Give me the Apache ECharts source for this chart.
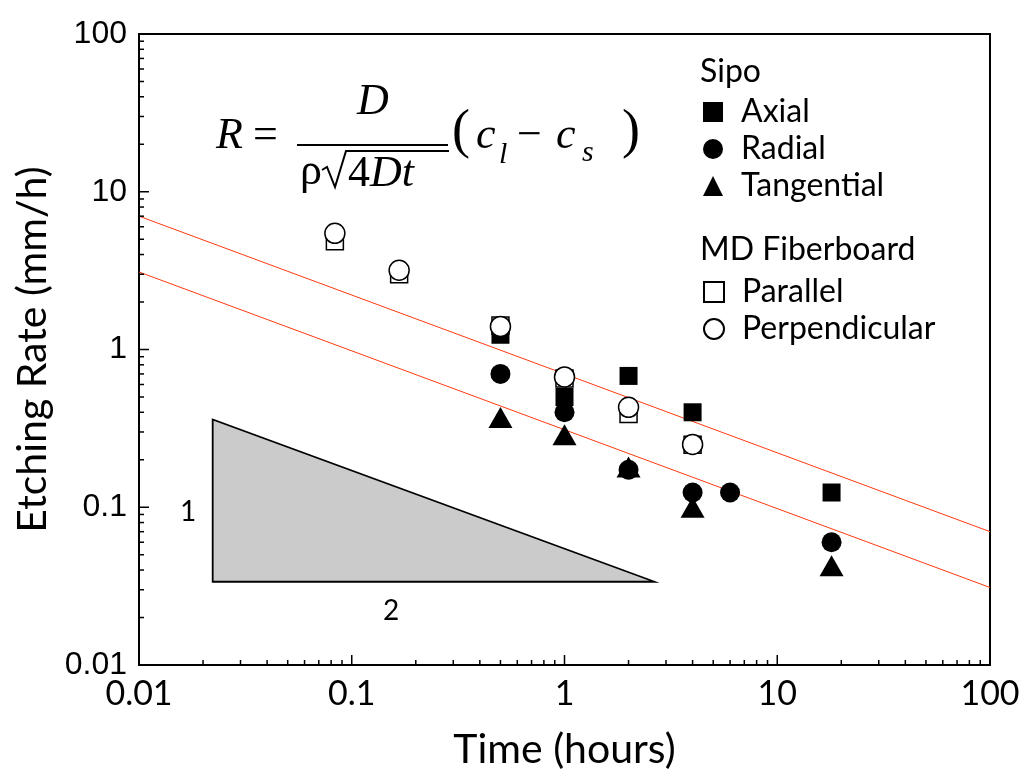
<!DOCTYPE html>
<html>
<head>
<meta charset="utf-8">
<script src="https://cdn.jsdelivr.net/npm/echarts@6/dist/echarts.min.js"></script>
<style>
  html, body { margin: 0; padding: 0; background: #fff; }
  #chart { width: 1027px; height: 783px; }
</style>
</head>
<body>
<div id="chart"></div>
<script>
// values
const axialX = [0.5, 1, 2, 4, 18];
const axialY = [1.24, 0.5, 0.68, 0.4, 0.124];
const radialX = [0.5, 1, 2, 4, 6, 18];
const radialY = [0.7, 0.4, 0.173, 0.124, 0.124, 0.06];
const tangX = [0.5, 1, 2, 4, 18];
const tangY = [0.37, 0.288, 0.18, 0.1, 0.0425];
const parallelX = [0.0833, 0.167, 0.5, 1, 2, 4];
const parallelY = [4.85, 3.0, 1.42, 0.654, 0.39, 0.249];
const perpX = [0.0833, 0.167, 0.5, 1, 2, 4];
const perpY = [5.45, 3.18, 1.4, 0.67, 0.43, 0.25];

// fitted lines (slope -1/2)
const upperLineX = [0.01, 100];
const upperLineY = [7.0, 0.07];
const lowerLineX = [0.01, 100];
const lowerLineY = [3.1, 0.031];

// slope triangle
const triX = [0.0222, 0.0222, 2.65];
const triY = [0.36, 0.0337, 0.0337];

const decadeLabels = ['0.01', '0.1', '1', '10', '100'];
const majorTicks = [0.01, 0.1, 1, 10, 100];
const minorTicks = [];
[0.01, 0.1, 1, 10].forEach(d => {
  for (let k = 2; k <= 9; k++) minorTicks.push(+(d * k).toPrecision(3));
});

const zip = (xs, ys) => xs.map((x, i) => [x, ys[i]]);
const labelOf = v => decadeLabels[Math.round(Math.log10(v)) + 2];

const chart = echarts.init(document.getElementById('chart'));

const baseAxis = {
  type: 'log',
  logBase: 10,
  min: 0.01,
  max: 100,
  splitLine: { show: false },
  axisTick: { show: false }
};

const font = 'Lato, "Open Sans", sans-serif';
const yTickFont = '"Liberation Sans", Arial, sans-serif';
const serif = '"Liberation Serif", "Times New Roman", serif';
const ital = 'italic 44px ' + serif;
const upr = '44px ' + serif;

// tick marks drawn through the axis scales: [value, length]
const tickData = majorTicks.map(v => [v, v, 10]).concat(minorTicks.map(v => [v, v, 5]));

chart.setOption({
  animation: false,
  backgroundColor: '#fff',
  grid: {
    left: 139, right: 37, top: 34, bottom: 118,
    show: true, borderColor: '#000', borderWidth: 2
  },
  xAxis: Object.assign({}, baseAxis, {
    name: 'Time (hours)',
    nameLocation: 'middle',
    nameGap: 64,
    nameTextStyle: { fontFamily: font, fontSize: 41, color: '#000' },
    axisLine: { show: true, lineStyle: { color: '#000', width: 2 } },
    axisLabel: {
      formatter: labelOf, margin: 12,
      fontFamily: font, fontSize: 34, color: '#000'
    }
  }),
  yAxis: Object.assign({}, baseAxis, {
    name: 'Etching Rate (mm/h)',
    nameLocation: 'middle',
    nameGap: 86,
    nameTextStyle: { fontFamily: font, fontSize: 41, color: '#000' },
    axisLine: { show: true, lineStyle: { color: '#000', width: 2 } },
    axisLabel: {
      formatter: labelOf, margin: 12,
      fontFamily: yTickFont, fontSize: 32, color: '#000'
    }
  }),
  legend: [
    {
      orient: 'vertical', left: 703, top: 96, itemGap: 5, padding: 0,
      itemWidth: 20, itemHeight: 20,
      data: ['Axial', 'Radial', 'Tangential'],
      textStyle: { fontFamily: font, fontSize: 32, lineHeight: 32, color: '#000', padding: [0, 0, 0, 13] }
    },
    {
      orient: 'vertical', left: 703, top: 276, itemGap: 5, padding: 0,
      itemWidth: 20, itemHeight: 20,
      data: ['Parallel', 'Perpendicular'],
      textStyle: { fontFamily: font, fontSize: 32, lineHeight: 32, color: '#000', padding: [0, 0, 0, 13] }
    }
  ],
  graphic: [
    { type: 'text', left: 700, top: 56, style: { text: 'Sipo', font: '32px ' + font, fill: '#000' } },
    { type: 'text', left: 700, top: 234, style: { text: 'MD Fiberboard', font: '32px ' + font, fill: '#000' } },
    { type: 'text', left: 180, top: 498, style: { text: '1', font: '28px ' + font, fill: '#000' } },
    { type: 'text', left: 383, top: 597, style: { text: '2', font: '28px ' + font, fill: '#000' } },
    // formula
    { type: 'text', left: 216, top: 114, style: { text: 'R', font: ital, fill: '#000' } },
    { type: 'text', left: 253, top: 114, style: { text: '=', font: upr, fill: '#000' } },
    { type: 'text', left: 357, top: 80, style: { text: 'D', font: ital, fill: '#000' } },
    { type: 'line', shape: { x1: 297, y1: 145, x2: 448, y2: 145 }, style: { stroke: '#000', lineWidth: 2 } },
    { type: 'text', left: 300, top: 150, style: { text: 'ρ', font: upr, fill: '#000' } },
    { type: 'polyline', shape: { points: [[322, 170], [327, 167], [335, 187], [346, 151], [449, 151]] }, style: { stroke: '#000', lineWidth: 2, fill: null } },
    { type: 'text', left: 348, top: 152, style: { text: '4', font: upr, fill: '#000' } },
    { type: 'text', left: 370, top: 152, style: { text: 'Dt', font: ital, fill: '#000' } },
    { type: 'text', left: 452, top: 106, style: { text: '(', font: '54px ' + serif, fill: '#000' } },
    { type: 'text', left: 476, top: 114, style: { text: 'c', font: ital, fill: '#000' } },
    { type: 'text', left: 499, top: 140, style: { text: 'l', font: 'italic 30px ' + serif, fill: '#000' } },
    { type: 'text', left: 517, top: 114, style: { text: '−', font: upr, fill: '#000' } },
    { type: 'text', left: 556, top: 114, style: { text: 'c', font: ital, fill: '#000' } },
    { type: 'text', left: 582, top: 138, style: { text: 's', font: 'italic 30px ' + serif, fill: '#000' } },
    { type: 'text', left: 622, top: 106, style: { text: ')', font: '54px ' + serif, fill: '#000' } }
  ],
  series: [
    {
      name: 'ticks',
      type: 'custom',
      silent: true,
      clip: false,
      z: 10,
      encode: { x: 0, y: 1 },
      renderItem: (params, api) => {
        const v = api.value(0);
        const len = api.value(2);
        const px = api.coord([v, 0.01]);
        const py = api.coord([0.01, v]);
        return {
          type: 'group',
          children: [
            { type: 'line', shape: { x1: px[0], y1: px[1], x2: px[0], y2: px[1] - len }, style: { stroke: '#000', lineWidth: 1.5 } },
            { type: 'line', shape: { x1: py[0], y1: py[1], x2: py[0] + len, y2: py[1] }, style: { stroke: '#000', lineWidth: 1.5 } }
          ]
        };
      },
      data: tickData
    },
    {
      name: 'triangle',
      type: 'custom',
      z: 1,
      renderItem: (params, api) => {
        if (params.dataIndex !== 0) return;
        const pts = triX.map((x, i) => api.coord([x, triY[i]]));
        return {
          type: 'polygon',
          shape: { points: pts },
          style: { fill: '#cbcbcb', stroke: '#000', lineWidth: 1.8 }
        };
      },
      data: zip(triX, triY)
    },
    {
      name: 'upper', type: 'line', data: zip(upperLineX, upperLineY),
      symbol: 'none', lineStyle: { color: '#ff3a10', width: 1 }, z: 2
    },
    {
      name: 'lower', type: 'line', data: zip(lowerLineX, lowerLineY),
      symbol: 'none', lineStyle: { color: '#ff3a10', width: 1 }, z: 2
    },
    {
      name: 'Axial', type: 'scatter', data: zip(axialX, axialY),
      symbol: 'rect', symbolSize: 18, itemStyle: { color: '#000', opacity: 1 }, z: 3
    },
    {
      name: 'Radial', type: 'scatter', data: zip(radialX, radialY),
      symbol: 'circle', symbolSize: 20, itemStyle: { color: '#000', opacity: 1 }, z: 3
    },
    {
      name: 'Tangential', type: 'scatter', data: zip(tangX, tangY),
      symbol: 'triangle', symbolSize: [24, 21], itemStyle: { color: '#000', opacity: 1 }, z: 3
    },
    {
      name: 'Parallel', type: 'scatter', data: zip(parallelX, parallelY),
      symbol: 'rect', symbolSize: 17,
      itemStyle: { color: '#fff', borderColor: '#000', borderWidth: 1.5, opacity: 1 }, z: 4
    },
    {
      name: 'Perpendicular', type: 'scatter', data: zip(perpX, perpY),
      symbol: 'circle', symbolSize: 20,
      itemStyle: { color: '#fff', borderColor: '#000', borderWidth: 1.5, opacity: 1 }, z: 4
    }
  ]
});
</script>
</body>
</html>
